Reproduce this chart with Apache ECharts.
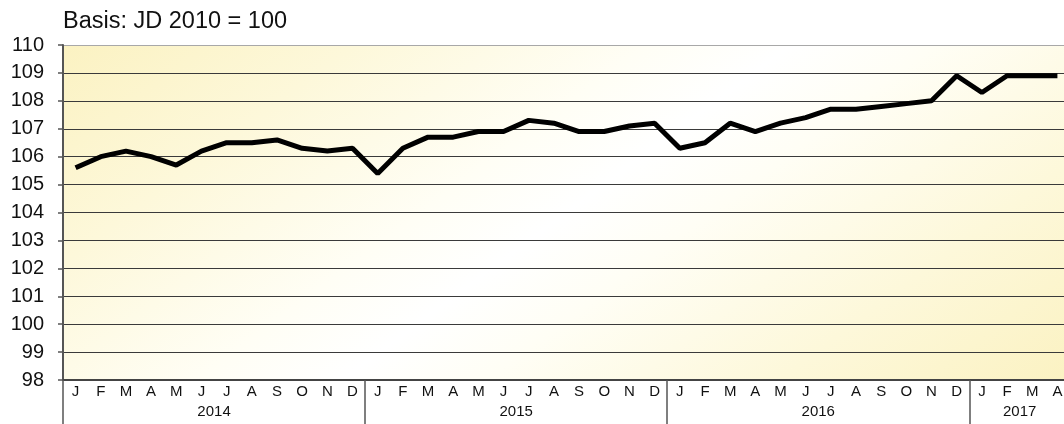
<!DOCTYPE html>
<html>
<head>
<meta charset="utf-8">
<script src="https://cdn.jsdelivr.net/npm/echarts@6/dist/echarts.min.js"></script>
<style>html,body{margin:0;padding:0;background:#fff;}#c{width:1064px;height:424px;}</style>
</head>
<body>
<div id="c"></div>
<script>
var monthLabels = ['J','F','M','A','M','J','J','A','S','O','N','D',
                   'J','F','M','A','M','J','J','A','S','O','N','D',
                   'J','F','M','A','M','J','J','A','S','O','N','D',
                   'J','F','M','A'];
var years = ['2014','2015','2016','2017'];
var yearStartIndex = [0, 12, 24, 36];
var yearLabelPos = [6, 18, 30, 38];
var values = [105.6,106.0,106.2,106.0,105.7,106.2,106.5,106.5,106.6,106.3,106.2,106.3,
              105.4,106.3,106.7,106.7,106.9,106.9,107.3,107.2,106.9,106.9,107.1,107.2,
              106.3,106.5,107.2,106.9,107.2,107.4,107.7,107.7,107.8,107.9,108.0,108.9,
              108.3,108.9,108.9,108.9];
var yTicks = [98,99,100,101,102,103,104,105,106,107,108,109,110];

var splitColors = yTicks.map(function(v){ return v === 110 ? '#a8a8a8' : '#3a3a3a'; });

var chart = echarts.init(document.getElementById('c'), null, {renderer:'canvas'});
chart.setOption({
  animation: false,
  title: {
    text: 'Basis: JD 2010 = 100',
    left: 58, top: 5,
    textStyle: {fontFamily: 'Liberation Sans, Arial', fontSize: 23.5, fontWeight: 'normal', color: '#111'}
  },
  grid: {
    left: 63, top: 45, width: 1007, height: 335,
    outerBoundsMode: 'none',
    containLabel: false,
    show: true, borderWidth: 0,
    backgroundColor: {
      type: 'linear', x: 0, y: 0, x2: 0.517, y2: 2.083,
      colorStops: [
        {offset: 0, color: '#fbf2c2'},
        {offset: 0.2, color: '#fdf8da'},
        {offset: 0.4, color: '#fffef5'},
        {offset: 0.5, color: '#ffffff'},
        {offset: 0.6, color: '#fffef5'},
        {offset: 0.8, color: '#fdf8da'},
        {offset: 1, color: '#fbf2c2'}
      ]
    }
  },
  xAxis: [{
    type: 'category',
    data: monthLabels,
    boundaryGap: true,
    axisLine: {show: true, lineStyle: {color: '#444', width: 2}},
    axisTick: {
      show: true,
      length: 44,
      interval: function(i){ return yearStartIndex.indexOf(i) >= 0; },
      lineStyle: {color: '#555', width: 1.5}
    },
    axisLabel: {
      interval: 0, margin: 4,
      fontFamily: 'Liberation Sans, Arial', fontSize: 15, color: '#111'
    },
    splitLine: {show: false}
  }, {
    type: 'value',
    min: 0, max: 40, interval: 1,
    position: 'bottom',
    axisLine: {show: false},
    axisTick: {show: false},
    splitLine: {show: false},
    axisLabel: {
      show: true, margin: 24,
      fontFamily: 'Liberation Sans, Arial', fontSize: 15, color: '#111',
      formatter: function(v){
        var k = yearLabelPos.indexOf(v);
        return k >= 0 ? years[k] : '';
      }
    }
  }],
  yAxis: {
    type: 'value',
    min: 98, max: 110, interval: 1,
    axisLine: {show: true, lineStyle: {color: '#555', width: 2}},
    axisTick: {show: true, length: 5, lineStyle: {color: '#555', width: 1.5}},
    axisLabel: {margin: 19, fontFamily: 'Liberation Sans, Arial', fontSize: 20, color: '#111'},
    splitLine: {show: true, lineStyle: {color: splitColors, width: 1.2}}
  },
  series: [{
    type: 'line',
    data: values,
    xAxisIndex: 0,
    showSymbol: false,
    symbol: 'none',
    lineStyle: {color: '#000', width: 5},
    z: 5
  }]
});
</script>
</body>
</html>
